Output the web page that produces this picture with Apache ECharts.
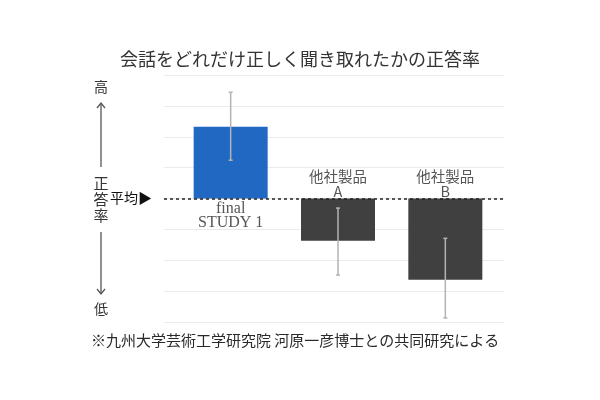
<!DOCTYPE html>
<html><head><meta charset="utf-8">
<script src="https://cdn.jsdelivr.net/npm/echarts@6/dist/echarts.min.js"></script>
<style>html,body{margin:0;padding:0;background:#fff}#c{width:600px;height:400px}</style>
</head><body><div id="c"></div>
<script>
const categories = ['final\nSTUDY 1', '他社製品\nA', '他社製品\nB'];
const values = [2.32, -1.37, -2.63];
const errLow = [1.24, -2.48, -3.87];
const errHigh = [3.44, -0.31, -1.29];
const barColors = ['#2068c2', '#404040', '#404040'];
const labelSide = ['bottom', 'top', 'top'];
const averageValue = 0;
const yMin = -4, yMax = 4, yStep = 1;

const JP = '"Noto Sans CJK JP", sans-serif';
const SERIF = '"Liberation Serif", "DejaVu Serif", serif';
const chart = echarts.init(document.getElementById('c'), null, {renderer: 'canvas'});

const gridTop = 75, gridBottom = 78;
const option = {
  animation: false,
  backgroundColor: '#fff',
  title: {
    text: '会話をどれだけ正しく聞き取れたかの正答率',
    left: 'center', top: 45,
    textStyle: {fontFamily: JP, fontSize: 18, fontWeight: 'normal', color: '#333'}
  },
  grid: [
    {left: 164, right: 96, top: gridTop, bottom: gridBottom},
    {left: 177, right: 101, top: gridTop, bottom: gridBottom}
  ],
  xAxis: [
    {type: 'category', gridIndex: 0, data: categories, show: false},
    {type: 'category', gridIndex: 1, data: categories, show: false}
  ],
  yAxis: [
    {type: 'value', gridIndex: 0, min: yMin, max: yMax, interval: yStep,
     axisLabel: {show: false}, axisLine: {show: false}, axisTick: {show: false},
     splitLine: {lineStyle: {color: '#ebebeb', width: 1}}},
    {type: 'value', gridIndex: 1, min: yMin, max: yMax, interval: yStep, show: false,
     splitLine: {show: false}}
  ],
  series: [
    {
      type: 'line', xAxisIndex: 0, yAxisIndex: 0, data: [], silent: true,
      markLine: {
        symbol: 'none', silent: true, label: {show: false},
        lineStyle: {type: [3, 3], color: '#222', width: 1.5},
        data: [{yAxis: averageValue}]
      }
    },
    {
      type: 'bar', xAxisIndex: 1, yAxisIndex: 1, barWidth: 74,
      data: values.map((v, i) => ({value: v, itemStyle: {color: barColors[i]}}))
    },
    {
      type: 'custom', xAxisIndex: 1, yAxisIndex: 1, z: 5,
      data: values.map((v, i) => [i, errLow[i], errHigh[i]]),
      renderItem: function (params, api) {
        const lo = api.coord([api.value(0), api.value(1)]);
        const hi = api.coord([api.value(0), api.value(2)]);
        const cap = 2;
        const st = {stroke: '#b3b3b3', lineWidth: 1.5};
        return {type: 'group', children: [
          {type: 'line', shape: {x1: lo[0], y1: lo[1], x2: hi[0], y2: hi[1]}, style: st},
          {type: 'line', shape: {x1: lo[0]-cap, y1: lo[1], x2: lo[0]+cap, y2: lo[1]}, style: st},
          {type: 'line', shape: {x1: hi[0]-cap, y1: hi[1], x2: hi[0]+cap, y2: hi[1]}, style: st}
        ]};
      }
    },
    {
      type: 'scatter', xAxisIndex: 1, yAxisIndex: 1, symbolSize: 0, silent: true,
      data: categories.map((c, i) => ({
        value: [i, averageValue],
        label: {
          show: true, position: labelSide[i], distance: i === 0 ? 3 : 0,
          formatter: c,
          fontFamily: i === 0 ? SERIF : JP,
          fontSize: i === 0 ? 16 : 14.5,
          lineHeight: i === 0 ? 14 : 15,
          color: '#2a2a2a'
        }
      }))
    }
  ],
  graphic: [
    {type: 'text', x: 101, y: 87, style: {text: '高', font: '14px ' + JP, fill: '#333', align: 'center', verticalAlign: 'middle'}},
    {type: 'line', shape: {x1: 101, y1: 103, x2: 101, y2: 167}, style: {stroke: '#555', lineWidth: 1.3}},
    {type: 'polyline', shape: {points: [[97, 108], [101, 103], [105, 108]]}, style: {stroke: '#555', lineWidth: 1.3, fill: null}},
    {type: 'text', x: 101, y: 183, style: {text: '正', font: '15px ' + JP, fill: '#333', align: 'center', verticalAlign: 'middle'}},
    {type: 'text', x: 101, y: 199, style: {text: '答', font: '15px ' + JP, fill: '#333', align: 'center', verticalAlign: 'middle'}},
    {type: 'text', x: 101, y: 215, style: {text: '率', font: '15px ' + JP, fill: '#333', align: 'center', verticalAlign: 'middle'}},
    {type: 'text', x: 110, y: 198, style: {text: '平均▶', font: '14px ' + JP, fill: '#111', align: 'left', verticalAlign: 'middle'}},
    {type: 'line', shape: {x1: 101, y1: 232, x2: 101, y2: 294}, style: {stroke: '#555', lineWidth: 1.3}},
    {type: 'polyline', shape: {points: [[97, 289], [101, 294], [105, 289]]}, style: {stroke: '#555', lineWidth: 1.3, fill: null}},
    {type: 'text', x: 101, y: 309, style: {text: '低', font: '14px ' + JP, fill: '#333', align: 'center', verticalAlign: 'middle'}},
    {type: 'text', x: 91, y: 340, style: {text: '※九州大学芸術工学研究院 河原一彦博士との共同研究による', font: '15px ' + JP, fill: '#2a2a2a', align: 'left', verticalAlign: 'middle'}}
  ]
};
chart.setOption(option);
</script>
</body></html>
